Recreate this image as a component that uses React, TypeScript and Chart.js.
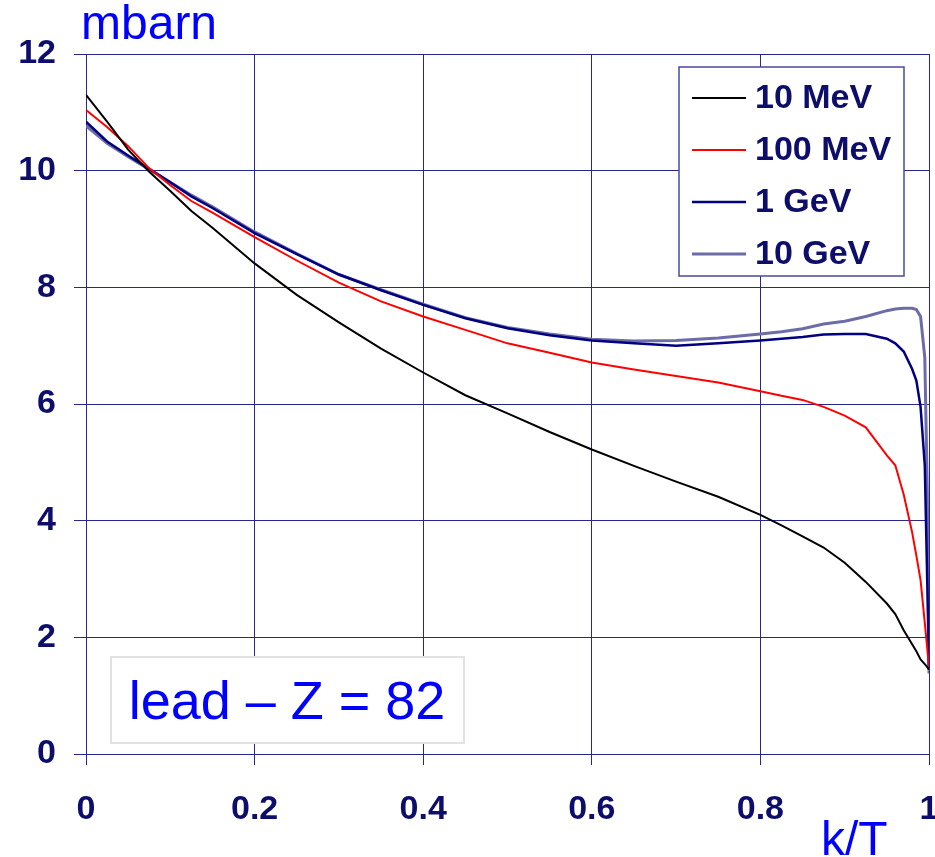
import React, { useEffect, useRef } from 'react';
import { Chart, registerables } from 'chart.js';

Chart.register(...registerables);

// k/T sample positions
const kValues = [0, 0.025, 0.05, 0.075, 0.1, 0.125, 0.15, 0.2, 0.25, 0.3, 0.35, 0.4, 0.45, 0.5, 0.55, 0.6, 0.65, 0.7, 0.75, 0.8, 0.825, 0.85, 0.875, 0.9, 0.925, 0.95, 0.96, 0.97, 0.98, 0.985, 0.99, 0.995, 0.998, 1.0];

// cross sections (mbarn)
const mev10 = [11.3, 10.84, 10.36, 9.98, 9.65, 9.31, 9.02, 8.41, 7.87, 7.4, 6.95, 6.54, 6.15, 5.84, 5.52, 5.22, 4.94, 4.67, 4.41, 4.1, 3.92, 3.73, 3.54, 3.28, 2.95, 2.58, 2.4, 2.12, 1.88, 1.76, 1.62, 1.54, 1.49, 1.45];
const mev100 = [11.04, 10.75, 10.42, 10.04, 9.75, 9.48, 9.28, 8.86, 8.46, 8.08, 7.76, 7.5, 7.27, 7.04, 6.88, 6.71, 6.59, 6.48, 6.37, 6.22, 6.14, 6.07, 5.95, 5.8, 5.6, 5.12, 4.95, 4.45, 3.8, 3.4, 2.98, 2.25, 1.8, 1.47];
const gev1 = [10.84, 10.5, 10.26, 10.03, 9.8, 9.56, 9.36, 8.93, 8.57, 8.22, 7.95, 7.7, 7.47, 7.3, 7.18, 7.09, 7.04, 7.0, 7.04, 7.09, 7.12, 7.15, 7.19, 7.2, 7.2, 7.12, 7.04, 6.9, 6.6, 6.4, 5.95, 4.95, 2.9, 1.45];
const gev10 = [10.77, 10.47, 10.24, 10.02, 9.8, 9.58, 9.38, 8.95, 8.58, 8.22, 7.96, 7.71, 7.48, 7.31, 7.2, 7.11, 7.08, 7.09, 7.13, 7.2, 7.24, 7.29, 7.37, 7.42, 7.5, 7.6, 7.63, 7.64, 7.64, 7.62, 7.5, 6.8, 4.5, 1.38];

const seriesLabels = ['10 MeV', '100 MeV', '1 GeV', '10 GeV'];
const seriesValues = [mev10, mev100, gev1, gev10];
const seriesColors = ['#000000', '#ff0000', '#000080', '#6c6ca8'];
const seriesWidths = [2, 2, 2.5, 3];

const xTickLabels = ['0', '0.2', '0.4', '0.6', '0.8', '1'];
const yAxisTitle = 'mbarn';
const xAxisTitle = 'k/T';
const noteText = 'lead \u2013 Z = 82';

const FONT = "'Liberation Sans', Arial, Helvetica, sans-serif";
const TICK_COLOR = '#0d0d6b';
const GRID_COLOR = '#26268c';

const overlayPlugin = {
  id: 'overlay',
  afterDraw(chart: any) {
    const ctx = chart.ctx as CanvasRenderingContext2D;
    ctx.save();
    // axis titles
    ctx.fillStyle = '#0000ff';
    ctx.font = `48px ${FONT}`;
    ctx.textAlign = 'left';
    ctx.textBaseline = 'alphabetic';
    ctx.fillText(yAxisTitle, 81, 39);
    ctx.fillText(xAxisTitle, 821, 855);

    // legend box
    ctx.fillStyle = '#ffffff';
    ctx.fillRect(679, 67, 225, 209);
    ctx.strokeStyle = '#4a4a9c';
    ctx.lineWidth = 1.5;
    ctx.strokeRect(679, 67, 225, 209);
    chart.data.datasets.forEach((ds: any, i: number) => {
      const y = 98 + i * 52;
      ctx.strokeStyle = ds.borderColor;
      ctx.lineWidth = ds.borderWidth;
      ctx.beginPath();
      ctx.moveTo(692, y);
      ctx.lineTo(746, y);
      ctx.stroke();
      ctx.fillStyle = TICK_COLOR;
      ctx.font = `bold 34px ${FONT}`;
      ctx.textBaseline = 'middle';
      ctx.fillText(ds.label, 755, y + 1);
    });

    // note box
    ctx.fillStyle = '#ffffff';
    ctx.fillRect(111, 657, 353, 86);
    ctx.strokeStyle = '#e2e2e2';
    ctx.lineWidth = 2;
    ctx.strokeRect(111, 657, 353, 86);
    ctx.fillStyle = '#0000ff';
    ctx.font = `54px ${FONT}`;
    ctx.textAlign = 'center';
    ctx.textBaseline = 'alphabetic';
    ctx.fillText(noteText, 287, 719);
    ctx.restore();
  },
};

export default function App() {
  const canvasRef = useRef<HTMLCanvasElement | null>(null);

  useEffect(() => {
    if (!canvasRef.current) return;
    const datasets = seriesLabels.map((label, i) => ({
      label,
      data: kValues.map((k, j) => ({ x: k, y: seriesValues[i][j] })),
      borderColor: seriesColors[i],
      backgroundColor: seriesColors[i],
      borderWidth: seriesWidths[i],
      pointRadius: 0,
      tension: 0,
      fill: false,
    }));
    const chart = new Chart(canvasRef.current, {
      type: 'line',
      data: { datasets },
      plugins: [overlayPlugin],
      options: {
        animation: false,
        responsive: false,
        maintainAspectRatio: false,
        devicePixelRatio: 1,
        layout: { padding: { top: 54, right: 6, left: 0, bottom: 0 } },
        plugins: {
          legend: { display: false },
          tooltip: { enabled: false },
          title: { display: false },
        },
        scales: {
          x: {
            type: 'linear',
            min: 0,
            max: 1,
            afterFit: (scale: any) => {
              scale.height = 103;
              scale.paddingLeft = 0;
              scale.paddingRight = 0;
            },
            afterBuildTicks: (scale: any) => {
              scale.ticks = xTickLabels.map((_, i) => ({ value: i * 0.2 }));
            },
            ticks: {
              callback: (_v: any, i: number) => xTickLabels[i],
              color: TICK_COLOR,
              font: { family: FONT, size: 34, weight: 'bold' },
              padding: 24,
              maxRotation: 0,
              autoSkip: false,
            },
            grid: { color: GRID_COLOR, lineWidth: 1, tickLength: 11, drawTicks: true },
            border: { display: true, color: GRID_COLOR, width: 1 },
          },
          y: {
            type: 'linear',
            min: 0,
            max: 12,
            afterFit: (scale: any) => {
              scale.width = 86;
              scale.paddingTop = 0;
              scale.paddingBottom = 0;
            },
            ticks: {
              stepSize: 2,
              color: TICK_COLOR,
              font: { family: FONT, size: 34, weight: 'bold' },
              padding: 18,
            },
            grid: { color: GRID_COLOR, lineWidth: 1, tickLength: 12, drawTicks: true },
            border: { display: true, color: GRID_COLOR, width: 1 },
          },
        },
      },
    });
    return () => chart.destroy();
  }, []);

  return (
    <div style={{ position: 'absolute', left: 0, top: 0, width: 935, height: 857, background: '#ffffff' }}>
      <canvas ref={canvasRef} width={935} height={857} style={{ width: 935, height: 857, display: 'block' }} />
    </div>
  );
}
